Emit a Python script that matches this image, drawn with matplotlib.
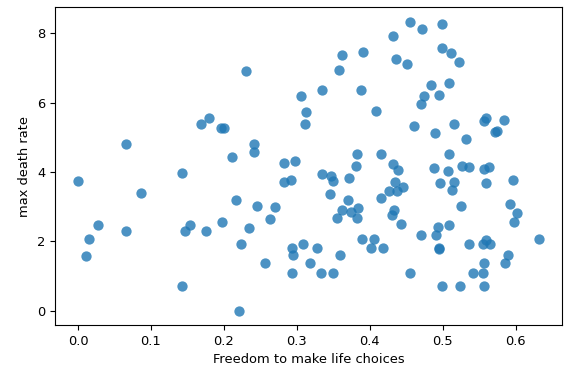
import numpy as np
import matplotlib
matplotlib.use("Agg")
import matplotlib.pyplot as plt

# freedom score vs. max death rate, one entry per country
freedom = [
    0.000, 0.011, 0.0145, 0.027, 0.066, 0.066, 0.087, 0.143, 0.143, 0.147,
    0.154, 0.168, 0.175, 0.179, 0.1955, 0.200, 0.197, 0.211, 0.216, 0.2205,
    0.224, 0.2305, 0.2346, 0.241, 0.241, 0.2456, 0.256, 0.2637, 0.2705, 0.283,
    0.283, 0.292, 0.293, 0.295, 0.293, 0.297,
    0.3056, 0.312, 0.311, 0.309, 0.318, 0.328, 0.333, 0.334, 0.335, 0.3465,
    0.350, 0.345, 0.349, 0.3556, 0.3574, 0.359, 0.3615, 0.3624, 0.3706, 0.3715,
    0.374, 0.3806, 0.383, 0.384, 0.383, 0.388, 0.389, 0.3906, 0.401, 0.4056,
    0.409, 0.416, 0.416, 0.418, 0.426, 0.430, 0.4315, 0.4325, 0.433, 0.434,
    0.436, 0.4375, 0.4388, 0.443, 0.445, 0.451, 0.4547, 0.4556,
    0.461, 0.4697, 0.4707, 0.4715, 0.474, 0.4843, 0.488, 0.490, 0.4906, 0.493,
    0.4947, 0.4952, 0.4955, 0.4966, 0.4984, 0.4984, 0.499, 0.507, 0.509, 0.509,
    0.509, 0.511, 0.5125, 0.5157, 0.5157, 0.522, 0.524, 0.525, 0.527, 0.532,
    0.536, 0.536, 0.542, 0.5547, 0.5557, 0.557, 0.557, 0.557, 0.557, 0.559,
    0.559, 0.559, 0.5634, 0.5648, 0.5716, 0.5743, 0.584, 0.586, 0.5898, 0.592,
    0.597, 0.598, 0.6025, 0.632,
]
death_rate = [
    3.75, 1.58, 2.06, 2.48, 4.80, 2.31, 3.40, 3.96, 0.70, 2.31,
    2.48, 5.39, 2.31, 5.55, 5.26, 5.26, 2.56, 4.42, 3.20, 0.00,
    1.93, 6.90, 2.39, 4.80, 4.58, 3.03, 1.38, 2.64, 2.99, 4.26,
    3.70, 3.78, 1.80, 1.59, 1.09, 4.33,
    6.19, 5.73, 5.39, 1.93, 1.38, 1.81, 1.09, 6.36, 3.93, 3.89,
    3.75, 3.35, 1.09, 2.66, 6.95, 1.60, 7.37, 2.90, 3.20, 3.83,
    2.85, 4.18, 4.51, 2.95, 2.66, 6.36, 2.07, 7.46, 1.81, 2.07,
    5.76, 4.52, 3.25, 1.81, 3.44, 2.77, 4.24, 7.92, 2.90, 3.71,
    7.27, 3.44, 4.05, 2.50, 3.58, 7.12, 8.34, 1.09,
    5.34, 5.97, 2.19, 8.12, 6.18, 6.52, 4.12, 5.13, 2.19, 2.41,
    6.22, 1.80, 1.79, 3.67, 8.26, 7.58, 0.71, 4.03, 4.51, 6.57,
    2.48, 7.42, 3.49, 3.71, 5.38, 7.16, 0.71, 3.03, 4.18, 4.95,
    4.13, 1.93, 1.09, 1.93, 1.09, 4.08, 5.46, 1.38, 0.71, 5.55,
    3.67, 2.04, 4.13, 1.93, 5.15, 5.18, 5.51, 1.38, 1.60, 3.07,
    3.76, 2.56, 2.82, 2.06,
]

plt.rcParams['font.size'] = 9.4

fig = plt.figure(figsize=(5.64, 3.74), dpi=100)
ax = fig.add_axes([0.0975, 0.131, 0.899, 0.85])
ax.scatter(freedom, death_rate, s=55, color='#1f77b4', alpha=0.8, linewidths=0)
ax.set_xlabel('Freedom to make life choices')
ax.set_ylabel('max death rate')

fig.savefig('out.png', dpi=100)
